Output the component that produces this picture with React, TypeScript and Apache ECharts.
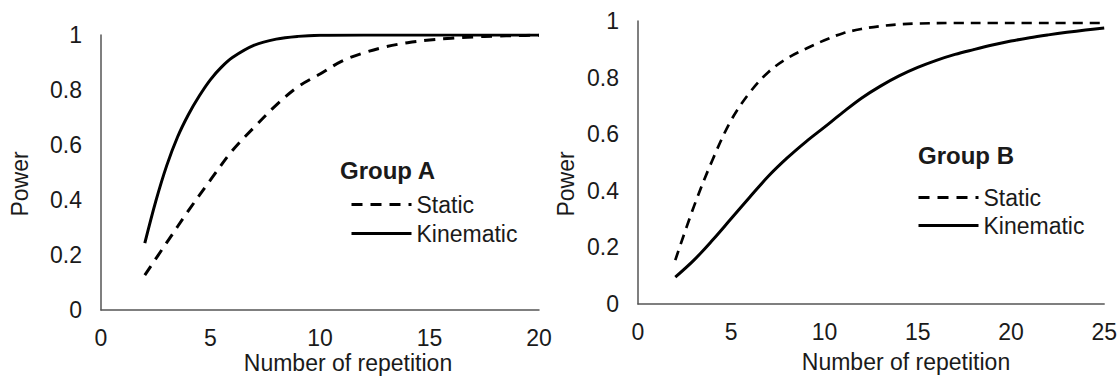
import React, { useEffect, useRef } from "react";
import * as echarts from "echarts";

// ---- Data ----
// Group A
const staticAX = [2, 3, 4, 5, 6, 7, 8, 9, 10, 11, 12, 13, 14, 15, 16, 17, 18, 19, 20];
const staticAY = [0.127, 0.245, 0.362, 0.473, 0.58, 0.665, 0.745, 0.812, 0.858, 0.905, 0.935, 0.957, 0.972, 0.982, 0.988, 0.993, 0.996, 0.998, 0.999];
const kinematicAX = [2, 2.5, 3, 3.5, 4, 4.5, 5, 5.5, 6, 7, 8, 9, 10, 12, 14, 16, 18, 20];
const kinematicAY = [0.243, 0.395, 0.525, 0.63, 0.712, 0.78, 0.838, 0.883, 0.918, 0.963, 0.985, 0.995, 0.999, 1, 1, 1, 1, 1];

// Group B
const staticBX = [2, 3, 4, 5, 6, 7, 8, 9, 10, 11, 12, 13, 14, 15, 17, 19, 21, 23, 25];
const staticBY = [0.155, 0.345, 0.51, 0.65, 0.748, 0.82, 0.868, 0.902, 0.932, 0.957, 0.972, 0.982, 0.988, 0.991, 0.993, 0.993, 0.993, 0.993, 0.993];
const kinematicBX = [2, 3, 4, 5, 6, 7, 8, 9, 10, 11, 12, 13, 14, 15, 16, 17, 18, 19, 20, 21, 22, 23, 24, 25];
const kinematicBY = [0.095, 0.155, 0.226, 0.302, 0.378, 0.452, 0.516, 0.573, 0.625, 0.678, 0.728, 0.77, 0.806, 0.836, 0.861, 0.882, 0.899, 0.915, 0.929, 0.941, 0.951, 0.96, 0.968, 0.975];

const legendNames = ["Static", "Kinematic"];
const groupTitles = ["Group A", "Group B"];
const xAxisTitle = "Number of repetition";
const yAxisTitle = "Power";

const FONT = "'Liberation Sans', Arial, Helvetica, sans-serif";
const TXT = "#1a1a1a";
const AXIS = "#555555";

const pairs = (xs: number[], ys: number[]) => xs.map((x, i) => [x, ys[i]]);

export default function App() {
  const ref = useRef<HTMLDivElement>(null);

  useEffect(() => {
    if (!ref.current) return;
    const chart = echarts.init(ref.current, undefined, { renderer: "svg" });

    const axisLabel = { color: TXT, fontSize: 23, fontFamily: FONT };
    const xAxisBase = {
      type: "value" as const,
      min: 0,
      interval: 5,
      axisLine: { show: true, lineStyle: { color: AXIS, width: 1.5 } },
      axisTick: { show: false },
      splitLine: { show: false },
      axisLabel: { ...axisLabel, margin: 16 },
    };
    const yAxisBase = {
      type: "value" as const,
      min: 0,
      max: 1,
      interval: 0.2,
      axisLine: { show: true, lineStyle: { color: AXIS, width: 1.5 } },
      axisTick: { show: false },
      splitLine: { show: false },
      axisLabel: { ...axisLabel, margin: 19 },
    };

    const dashed = { color: "#000", width: 3, type: [11, 8] as number[] };
    const solid = { color: "#000", width: 3, type: "solid" as const };

    const lineSeries = (name: string, idx: number, data: number[][], ls: any) => ({
      type: "line" as const,
      name,
      xAxisIndex: idx,
      yAxisIndex: idx,
      data,
      symbol: "none",
      showSymbol: false,
      smooth: 0.35,
      lineStyle: ls,
      itemStyle: { color: "#000" },
      emphasis: { disabled: true },
    });

    const legendBase = {
      orient: "vertical" as const,
      padding: 0,
      itemWidth: 60,
      itemHeight: 14,
      selectedMode: false,
      itemStyle: { opacity: 0, borderWidth: 0 },
      lineStyle: { width: 3 },
      textStyle: { color: TXT, fontSize: 23, fontFamily: FONT, lineHeight: 23 },
      data: legendNames,
    };

    chart.setOption({
      animation: false,
      backgroundColor: "#ffffff",
      grid: [
        { left: 101, top: 35, width: 438, height: 275, containLabel: false },
        { left: 638, top: 21, width: 467, height: 283, containLabel: false },
      ],
      xAxis: [
        { ...xAxisBase, gridIndex: 0, max: 20 },
        { ...xAxisBase, gridIndex: 1, max: 25 },
      ],
      yAxis: [
        { ...yAxisBase, gridIndex: 0 },
        { ...yAxisBase, gridIndex: 1 },
      ],
      title: [
        {
          text: groupTitles[0],
          left: 340,
          top: 157,
          padding: 0,
          textStyle: { color: TXT, fontSize: 24, fontWeight: "bold", fontFamily: FONT, lineHeight: 26 },
        },
        {
          text: groupTitles[1],
          left: 918,
          top: 142,
          padding: 0,
          textStyle: { color: TXT, fontSize: 24, fontWeight: "bold", fontFamily: FONT, lineHeight: 26 },
        },
      ],
      legend: [
        { ...legendBase, left: 350, top: 193, itemGap: 6 },
        { ...legendBase, left: 917, top: 186, itemGap: 5 },
      ],
      graphic: [
        {
          type: "text",
          x: 20,
          y: 184,
          rotation: Math.PI / 2,
          style: { text: yAxisTitle, fill: TXT, font: `23px ${FONT}`, textAlign: "center", textVerticalAlign: "middle" },
        },
        {
          type: "text",
          x: 566,
          y: 184,
          rotation: Math.PI / 2,
          style: { text: yAxisTitle, fill: TXT, font: `23px ${FONT}`, textAlign: "center", textVerticalAlign: "middle" },
        },
        {
          type: "text",
          x: 348,
          y: 363,
          style: { text: xAxisTitle, fill: TXT, font: `23px ${FONT}`, textAlign: "center", textVerticalAlign: "middle" },
        },
        {
          type: "text",
          x: 906,
          y: 362,
          style: { text: xAxisTitle, fill: TXT, font: `23px ${FONT}`, textAlign: "center", textVerticalAlign: "middle" },
        },
      ],
      series: [
        lineSeries(legendNames[0], 0, pairs(staticAX, staticAY), dashed),
        lineSeries(legendNames[1], 0, pairs(kinematicAX, kinematicAY), solid),
        lineSeries(legendNames[0], 1, pairs(staticBX, staticBY), { ...dashed, width: 2.7, type: [10, 7] }),
        lineSeries(legendNames[1], 1, pairs(kinematicBX, kinematicBY), solid),
      ],
    });

    return () => chart.dispose();
  }, []);

  return (
    <div
      ref={ref}
      style={{ position: "absolute", left: 0, top: 0, width: 1120, height: 376, background: "#fff" }}
    />
  );
}
